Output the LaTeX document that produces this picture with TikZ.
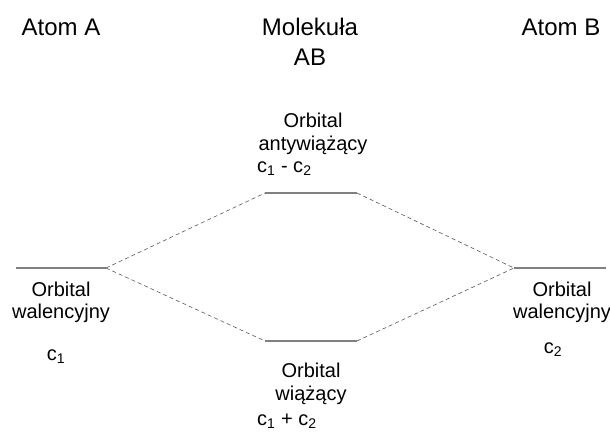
\documentclass[tikz,border=0pt]{standalone}
\usepackage{fontspec}
\setmainfont{Liberation Sans}
\begin{document}
\begin{tikzpicture}[x=1pt,y=-1pt,
  title/.style={font=\fontsize{24}{28}\selectfont, anchor=base, inner sep=0pt},
  lbl/.style={font=\fontsize{20}{23}\selectfont, anchor=base, inner sep=0pt},
  lblw/.style={lbl, anchor=base west},
  level/.style={draw=black!50, line width=1.1pt},
  link/.style={draw=black!65, dash pattern=on 4pt off 3pt, line width=0.6pt}]
\useasboundingbox[fill=white] (0,0) rectangle (610,431);
% titles
\node[title] (tA) at (61,35) {Atom A};
\node[title] (tM1) at (310,35) {Molekuła};
\node[title] (tM2) at (310,65) {AB};
\node[title] (tB) at (561,35) {Atom B};
% level end points
\coordinate (a1) at (16,268);
\coordinate (a2) at (106,268);
\coordinate (b1) at (514,268);
\coordinate (b2) at (606,268);
\coordinate (u1) at (265,193);
\coordinate (u2) at (357,193);
\coordinate (d1) at (265,341);
\coordinate (d2) at (357,341);
% levels
\draw[level] (a1) -- (a2);
\draw[level] (b1) -- (b2);
\draw[level] (u1) -- (u2);
\draw[level] (d1) -- (d2);
% connectors
\draw[link] (a2) -- (u1);
\draw[link] (a2) -- (d1);
\draw[link] (u2) -- (b1);
\draw[link] (d2) -- (b1);
% left labels
\node[lbl] (lo) at (61,296) {Orbital};
\node[lbl] (lw) at (61,318) {walencyjny};
\node[lbl] (lc) at (56,360) {c\textsubscript{1}};
% right labels
\node[lbl] (ro) at (562,296) {Orbital};
\node[lbl] (rw) at (562,318) {walencyjny};
\node[lbl] (rc) at (553,353) {c\textsubscript{2}};
% top middle
\node[lbl] (uo) at (313,127) {Orbital};
\node[lbl] (uw) at (313,150) {antywiążący};
\node[lblw] (uc) at (257,172) {c\textsubscript{1} - c\textsubscript{2}};
% bottom middle
\node[lbl] (do) at (311,377) {Orbital};
\node[lbl] (dw) at (311,400) {wiążący};
\node[lblw] (dc) at (257,425) {c\textsubscript{1} + c\textsubscript{2}};
\end{tikzpicture}
\end{document}
